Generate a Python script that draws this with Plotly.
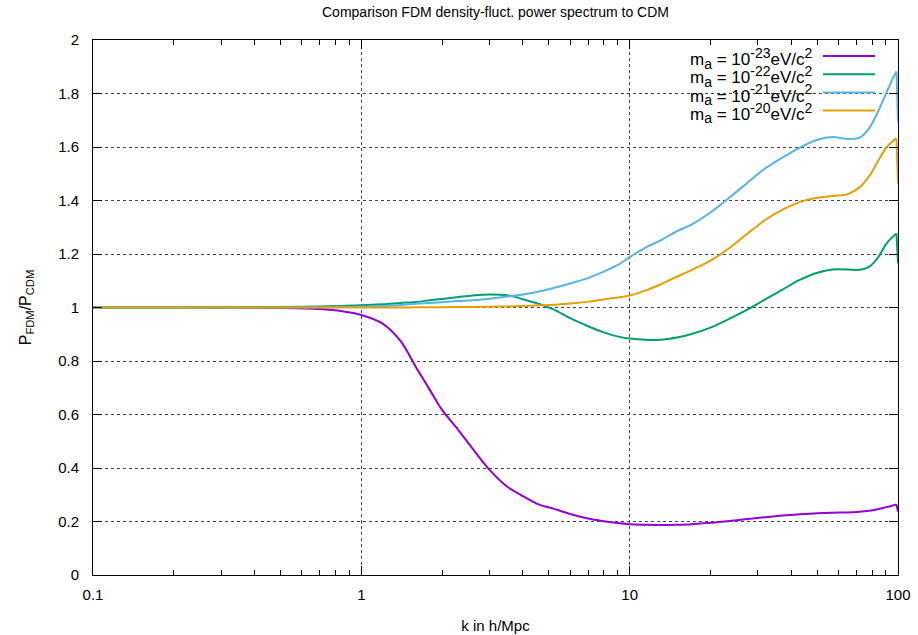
import plotly.graph_objects as go

k = [0.1, 0.2, 0.5, 0.7, 0.85, 1, 1.2, 1.4, 1.6, 1.8, 2.0, 2.3, 2.6, 3.0, 3.5, 4, 4.6, 5.2, 6, 7, 8, 9,
     10, 11.5, 13, 15, 17, 20, 23, 27, 32, 37, 43, 50, 57, 65, 72, 78, 84, 90, 95, 98.7, 100]

p_m23 = [1.0, 1.0, 0.998, 0.994, 0.986, 0.972, 0.94, 0.875, 0.776, 0.692, 0.617, 0.542, 0.472, 0.394, 0.33,
         0.295, 0.263, 0.248, 0.228, 0.211, 0.201, 0.194, 0.19, 0.188, 0.187, 0.188, 0.19, 0.195, 0.201,
         0.208, 0.216, 0.222, 0.227, 0.231, 0.233, 0.234, 0.236, 0.24, 0.246, 0.253, 0.259, 0.264, 0.237]

p_m22 = [1.0, 1.0, 1.002, 1.004, 1.006, 1.008, 1.012, 1.017, 1.021, 1.027, 1.032, 1.039, 1.045, 1.049,
         1.046, 1.031, 1.013, 0.993, 0.96, 0.93, 0.907, 0.892, 0.884, 0.879, 0.879, 0.888, 0.901, 0.925,
         0.953, 0.988, 1.03, 1.066, 1.103, 1.13, 1.142, 1.142, 1.141, 1.152, 1.185, 1.235, 1.262, 1.277, 1.165]

p_m21 = [1.0, 1.0, 1.0, 1.001, 1.002, 1.003, 1.006, 1.009, 1.014, 1.017, 1.02, 1.024, 1.027, 1.033,
         1.041, 1.049, 1.06, 1.073, 1.09, 1.11, 1.134, 1.158, 1.188, 1.225, 1.25, 1.285, 1.31, 1.355,
         1.403, 1.46, 1.52, 1.56, 1.597, 1.627, 1.637, 1.63, 1.635, 1.67, 1.73, 1.797, 1.85, 1.882, 1.695]

p_m20 = [1.0, 1.0, 1.0, 1.0, 1.0, 1.0, 1.0, 1.0, 1.001, 1.001, 1.001, 1.002, 1.002, 1.003, 1.004,
         1.006, 1.008, 1.01, 1.015, 1.022, 1.03, 1.037, 1.045, 1.064, 1.086, 1.115, 1.14, 1.175, 1.215,
         1.27, 1.327, 1.365, 1.394, 1.41, 1.417, 1.424, 1.45, 1.49, 1.545, 1.595, 1.62, 1.632, 1.464]

exponents = ["-23", "-22", "-21", "-20"]
names = ["m<sub>a</sub> = 10<sup>%s</sup>eV/c<sup>2</sup>" % e for e in exponents]
colors = ["#9400d3", "#009e73", "#56b4e9", "#e69f00"]
series = [p_m23, p_m22, p_m21, p_m20]

x_ticks = [0.1, 1, 10, 100]
x_ticklabels = ["0.1", "1", "10", "100"]
y_ticks = [0, 0.2, 0.4, 0.6, 0.8, 1, 1.2, 1.4, 1.6, 1.8, 2]
y_ticklabels = ["0", "0.2", "0.4", "0.6", "0.8", "1", "1.2", "1.4", "1.6", "1.8", "2"]
minor_x = [m * d for d in (0.1, 1, 10) for m in range(2, 10)]

FONT = "Liberation Sans, Arial, Helvetica, sans-serif"

fig = go.Figure()
for ys, nm, c in zip(series, names, colors):
    fig.add_trace(go.Scatter(x=k[:-1], y=ys[:-1], mode="lines", name=nm,
                             line=dict(color=c, width=2, shape="spline", smoothing=0.9),
                             showlegend=False))
    fig.add_trace(go.Scatter(x=k[-2:], y=ys[-2:], mode="lines", name=nm,
                             line=dict(color=c, width=2), showlegend=False, hoverinfo="skip"))


def key_label(exp):
    s = "<span style='font-size:14px'>%s</span>"
    return ("<span style='font-size:17px'>m<sub>" + s % "a" + "</sub> = 10<sup>" + s % exp +
            "</sup>eV/c<sup>" + s % "2" + "</sup></span>")


# gnuplot-like key: right-aligned text block with sample lines to its right
LINE_GAP = 18.2
first_row = 58
shapes = [dict(type="rect", xref="paper", yref="paper", x0=0.707, x1=0.984, y0=0.855, y1=0.985,
               fillcolor="white", line=dict(width=0), layer="between")]
key_text = "<br>".join(key_label(e) for e in exponents)
block_center = first_row + 1.5 * LINE_GAP
annotations = [dict(text=key_text, xref="paper", yref="paper", x=(815 - 93) / 805,
                    y=1 - (block_center - 40) / 535, xanchor="right", yanchor="middle",
                    align="right", showarrow=False,
                    font=dict(family=FONT, size=14, color="black"))]
for i, c in enumerate(colors):
    yl = first_row - 2 + i * LINE_GAP
    yp = 1 - (yl - 40) / 535
    shapes.append(dict(type="line", xref="paper", yref="paper",
                       x0=(823 - 93) / 805, x1=(875 - 93) / 805, y0=yp, y1=yp,
                       line=dict(color=c, width=2), layer="above"))

fig.update_layout(
    width=918, height=635,
    margin=dict(l=93, r=20, t=40, b=60, autoexpand=False),
    paper_bgcolor="white", plot_bgcolor="white",
    font=dict(family=FONT, size=15, color="black"),
    title=dict(text="Comparison FDM density-fluct. power spectrum to CDM",
               x=(93 + 898) / 2 / 918, xanchor="center", y=1 - 12 / 635, yanchor="middle",
               font=dict(family=FONT, size=14)),
    shapes=shapes, annotations=annotations,
    xaxis=dict(type="log", range=[-1, 2], tickvals=x_ticks, ticktext=x_ticklabels,
               ticks="inside", ticklen=9, tickcolor="black", tickwidth=1,
               ticklabelstandoff=6, tickfont=dict(family=FONT, size=15),
               showline=True, linecolor="black", linewidth=1, mirror="ticks",
               showgrid=True, gridcolor="#444444", griddash="dot", gridwidth=1,
               zeroline=False, automargin=False,
               minor=dict(tickvals=minor_x, ticks="inside", ticklen=5, tickcolor="black",
                          showgrid=False),
               title=dict(text="k in h/Mpc", standoff=18, font=dict(family=FONT, size=15))),
    yaxis=dict(range=[0, 2], tickvals=y_ticks, ticktext=y_ticklabels,
               ticks="inside", ticklen=9, tickcolor="black", tickwidth=1,
               ticklabelstandoff=10, tickfont=dict(family=FONT, size=15),
               showline=True, linecolor="black", linewidth=1, mirror="ticks",
               showgrid=True, gridcolor="#444444", griddash="dot", gridwidth=1,
               zeroline=False, automargin=False,
               title=dict(text="P<sub>FDM</sub>/P<sub>CDM</sub>", standoff=22,
                          font=dict(family=FONT, size=16))),
)

fig.write_html("out.html")
